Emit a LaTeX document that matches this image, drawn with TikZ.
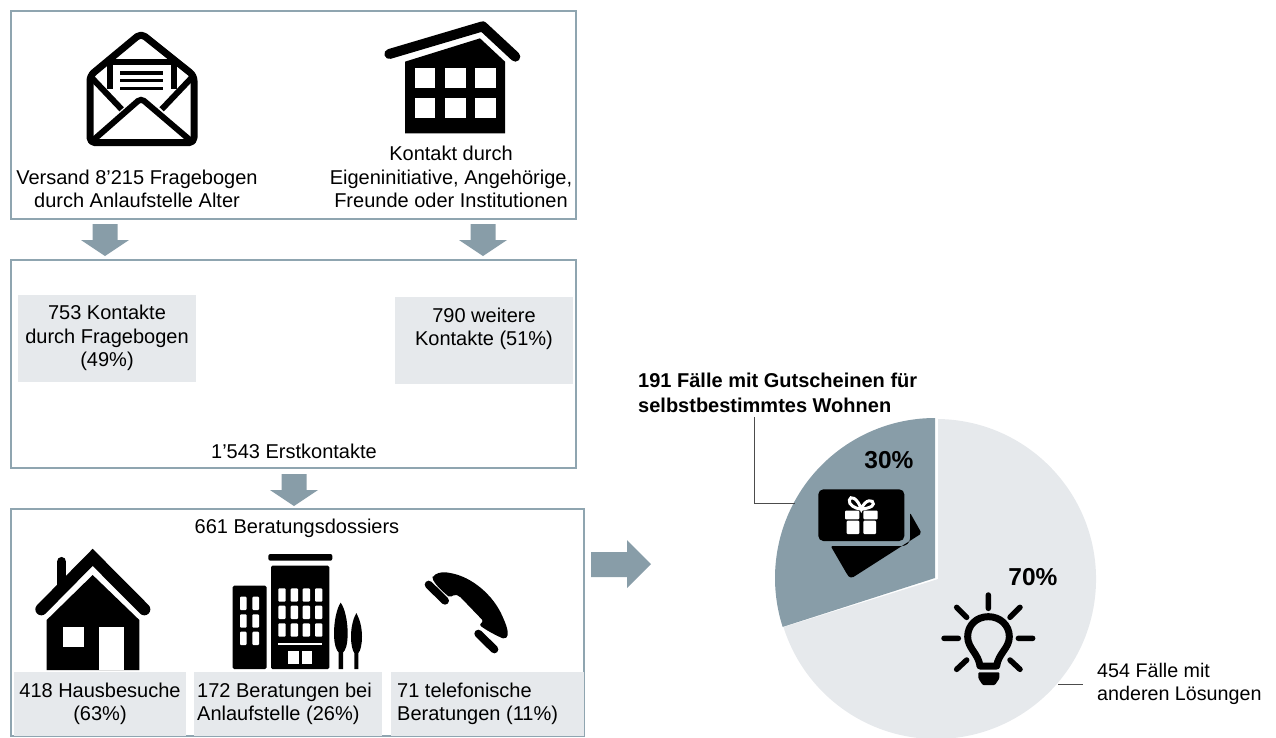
\documentclass[tikz,border=0pt]{standalone}
\usepackage{fontspec}
\setmainfont{Liberation Sans}
\definecolor{frameC}{HTML}{8FA5B0}
\definecolor{slate}{HTML}{889DA8}
\definecolor{pale}{HTML}{E6E9EC}
\newcommand{\downarrowshape}[3]{\fill[slate] (#1-12.5,#2) -- (#1+12.5,#2) -- (#1+12.5,#2+16) -- (#1+24,#2+16) -- (#1,#3) -- (#1-24,#2+16) -- (#1-12.5,#2+16) -- cycle;}
\tikzset{
  x=1pt,y=-1pt,
  framebox/.style={draw=frameC,line width=1.5pt,fill=white},
  palebox/.style={fill=pale},
  label/.style={font=\fontsize{20}{23.6}\selectfont,align=center,text=black,inner sep=0pt},
  leftlabel/.style={font=\fontsize{20}{23.6}\selectfont,align=left,text=black,inner sep=0pt,anchor=west},
  sidelabel/.style={font=\fontsize{19.7}{23.6}\selectfont,align=left,text=black,inner sep=0pt,anchor=west},
  boldlabel/.style={font=\fontsize{20}{25}\selectfont\bfseries,align=left,text=black,inner sep=0pt,anchor=west},
  pct/.style={font=\fontsize{24.5}{28}\selectfont\bfseries,text=black,inner sep=0pt},
  leader/.style={draw=black!70,line width=1pt},
  zoomed/.style={x=0.33333pt,y=-0.33333pt},
}
\begin{document}
\begin{tikzpicture}
\useasboundingbox (0,0) rectangle (1276,737);
% frames
\draw[framebox] (11,11) rectangle (576,219);
\draw[framebox] (11,260) rectangle (576,468);
\draw[framebox] (11,509) rectangle (584,736);
% fat arrows
\downarrowshape{105}{224}{256}
\downarrowshape{483}{224}{256}
\downarrowshape{294}{474}{506}
\fill[slate] (591,552) -- (627,552) -- (627,540) -- (651,564) -- (627,588) -- (627,577) -- (591,577) -- cycle;
% pale boxes
\fill[palebox] (18,295) rectangle (196,382);
\fill[palebox] (395,297) rectangle (573,384);
\fill[palebox] (14,672) rectangle (186,736);
\fill[palebox] (194,672) rectangle (382,736);
\fill[palebox] (391,672) rectangle (584,736);
% texts
\node[label] (t1) at (137,189) {Versand 8’215 Fragebogen\\durch Anlaufstelle Alter};
\node[label] (t2) at (451,177) {Kontakt durch\\Eigeninitiative, Angehörige,\\Freunde oder Institutionen};
\node[label] (t3) at (107,338) {753 Kontakte\\durch Fragebogen\\(49\%)};
\node[label] (t4) at (484,329) {790 weitere\\Kontakte (51\%)};
\node[label] (t5) at (294,451) {1’543 Erstkontakte};
\node[label] (t6) at (297,528) {661 Beratungsdossiers};
\node[label] (t7) at (100,704) {418 Hausbesuche\\(63\%)};
\node[leftlabel] (t8) at (197,704) {172 Beratungen bei\\Anlaufstelle (26\%)};
\node[leftlabel] (t9) at (397,704) {71 telefonische\\Beratungen (11\%)};
% envelope
\begin{scope}[shift={(70,10)},zoomed]
 \draw[line width=7pt,rounded corners=5pt,line join=round] (60,197) -- (213,70) -- (372,197) -- (372,398) -- (60,398) -- cycle;
 \draw[line width=6pt] (120,150) -- (120,238) (312,150) -- (312,238) (118,155) -- (320,155);
 \draw[line width=6pt] (62,200) -- (155,298) (368,200) -- (275,298);
 \draw[line width=6pt,rounded corners=4pt] (68,392) -- (213,265) -- (362,392);
 \draw[line width=3.3pt] (150,189) -- (280,189) (150,212) -- (280,212) (150,236) -- (280,236);
\end{scope}
% building
\begin{scope}[shift={(370,10)},zoomed]
 \fill (105,155) -- (330,85) -- (405,155) -- (405,370) -- (105,370) -- cycle;
 \draw[line width=10pt,line cap=round,line join=round] (58,132) -- (338,49) -- (436,140);
 \foreach \xa/\xb in {135/195,225/287,315/377}{
  \fill[white] (\xa,175) rectangle (\xb,233);
  \fill[white] (\xa,265) rectangle (\xb,323);
 }
\end{scope}
% house
\begin{scope}[shift={(20,540)},zoomed]
 \fill (80,240) -- (218,105) -- (358,240) -- (358,390) -- (80,390) -- cycle;
 \draw[line width=9.5pt,line cap=round] (125,65) -- (125,135);
 \draw[line width=12pt,line cap=round,line join=miter] (64,208) -- (218,52) -- (373,208);
 \fill[white] (130,262) rectangle (193,322);
 \fill[white] (238,262) rectangle (312,390);
\end{scope}
% office buildings
\begin{scope}[shift={(220,545)},zoomed]
 \fill[rounded corners=2pt] (145,27) rectangle (337,47);
 \fill[rounded corners=1.5pt] (153,62) rectangle (328,372);
 \fill[rounded corners=1.5pt] (38,122) rectangle (140,372);
 \foreach \xa in {175,212,248,285}{
  \foreach \ya in {130,182,235}{
   \fill[white,rounded corners=1pt] (\xa,\ya) rectangle ++(22,40);
  }
 }
 \fill[white] (175,295) rectangle (305,300);
 \fill[white] (205,318) rectangle (238,358);
 \fill[white] (245,318) rectangle (277,358);
 \foreach \xa in {60,97}{
  \foreach \ya in {155,208,260}{
   \fill[white,rounded corners=1pt] (\xa,\ya) rectangle ++(20,40);
  }
 }
 \fill (362,173) .. controls (350,190) and (342,230) .. (342,265) .. controls (342,300) and (350,318) .. (356,322) -- (356,372) -- (369,372) -- (369,322) .. controls (376,318) and (383,300) .. (383,265) .. controls (383,230) and (375,190) .. (362,173) -- cycle;
 \fill (409,204) .. controls (400,220) and (393,245) .. (393,275) .. controls (393,300) and (398,318) .. (403,324) -- (403,372) -- (415,372) -- (415,324) .. controls (421,318) and (426,300) .. (426,275) .. controls (426,245) and (418,220) .. (409,204) -- cycle;
\end{scope}
% phone
\begin{scope}[shift={(415,560)},zoomed]
 \fill[rounded corners=2pt] (52,55) .. controls (60,40) and (80,35) .. (100,38) .. controls (170,50) and (235,105) .. (265,175) .. controls (278,205) and (282,225) .. (270,237) .. controls (255,232) and (220,215) .. (193,195) -- (205,183) -- (133,108) -- (118,103) -- (105,113) .. controls (90,100) and (65,80) .. (52,55) -- cycle;
 \draw[line width=8pt,line cap=round] (41,74) -- (90,122);
 \draw[line width=8pt,line cap=round] (190,221) -- (238,268);
\end{scope}
% pie
\coordinate (pieL) at (938,579);
\coordinate (pieS) at (935,578);
\fill[pale] (938,419) arc[start angle=-89.3,end angle=162.5,radius=160] -- (pieL) -- cycle;
\fill[slate] (935,418) arc[start angle=-90,end angle=-197.8,radius=160] -- (pieS) -- cycle;
\coordinate (leadA) at (754,417);
\coordinate (leadB) at (754,503);
\coordinate (leadC) at (795,503);
\draw[leader] (leadA) -- (leadB) -- (leadC);
\coordinate (leadD) at (1058,684);
\coordinate (leadE) at (1083,684);
\draw[leader] (leadD) -- (leadE);
\node[pct] (p30) at (889,460) {30\%};
\node[pct] (p70) at (1033,577) {70\%};
\node[boldlabel] (b1) at (638,393) {191 Fälle mit Gutscheinen für\\selbstbestimmtes Wohnen};
\node[sidelabel] (s1) at (1097,684) {454 Fälle mit\\anderen Lösungen};
% gift card
\begin{scope}[shift={(800,470)},zoomed]
 \fill[rounded corners=2pt] (92,228) -- (300,228) .. controls (318,228) and (330,218) .. (330,200) -- (330,128) -- (365,190) -- (165,318) .. controls (155,324) and (148,322) .. (142,314) -- cycle;
 \fill[rounded corners=5pt] (55,58) rectangle (313,213);
 \fill[white,rounded corners=1pt] (135,122) rectangle (178,148);
 \fill[white,rounded corners=1pt] (190,122) rectangle (233,148);
 \fill[white,rounded corners=1pt] (140,152) rectangle (178,192);
 \fill[white,rounded corners=1pt] (190,152) rectangle (228,192);
 \draw[white,line width=3pt] (184,118) .. controls (165,115) and (145,105) .. (148,90) .. controls (150,76) and (172,82) .. (184,118) .. controls (195,85) and (222,88) .. (220,102) .. controls (218,112) and (200,115) .. (184,118);
\end{scope}
% bulb
\begin{scope}[shift={(930,580)},zoomed]
 \draw[line width=5.5pt,line cap=round] (175,45) -- (175,85) (80,82) -- (110,112) (270,82) -- (240,112) (42,175) -- (85,175) (265,175) -- (308,175) (80,268) -- (110,240) (270,268) -- (240,240);
 \draw[line width=7pt,line join=round] (150,258) .. controls (145,220) and (113,205) .. (113,170) .. controls (113,135) and (140,110) .. (175,110) .. controls (210,110) and (238,135) .. (238,170) .. controls (238,205) and (205,220) .. (200,258) -- cycle;
 \draw[line width=5pt,line cap=round] (148,258) -- (202,258);
 \fill[rounded corners=1pt] (145,277) -- (208,277) -- (208,295) -- (195,315) -- (158,315) -- (145,295) -- cycle;
\end{scope}
\end{tikzpicture}
\end{document}
